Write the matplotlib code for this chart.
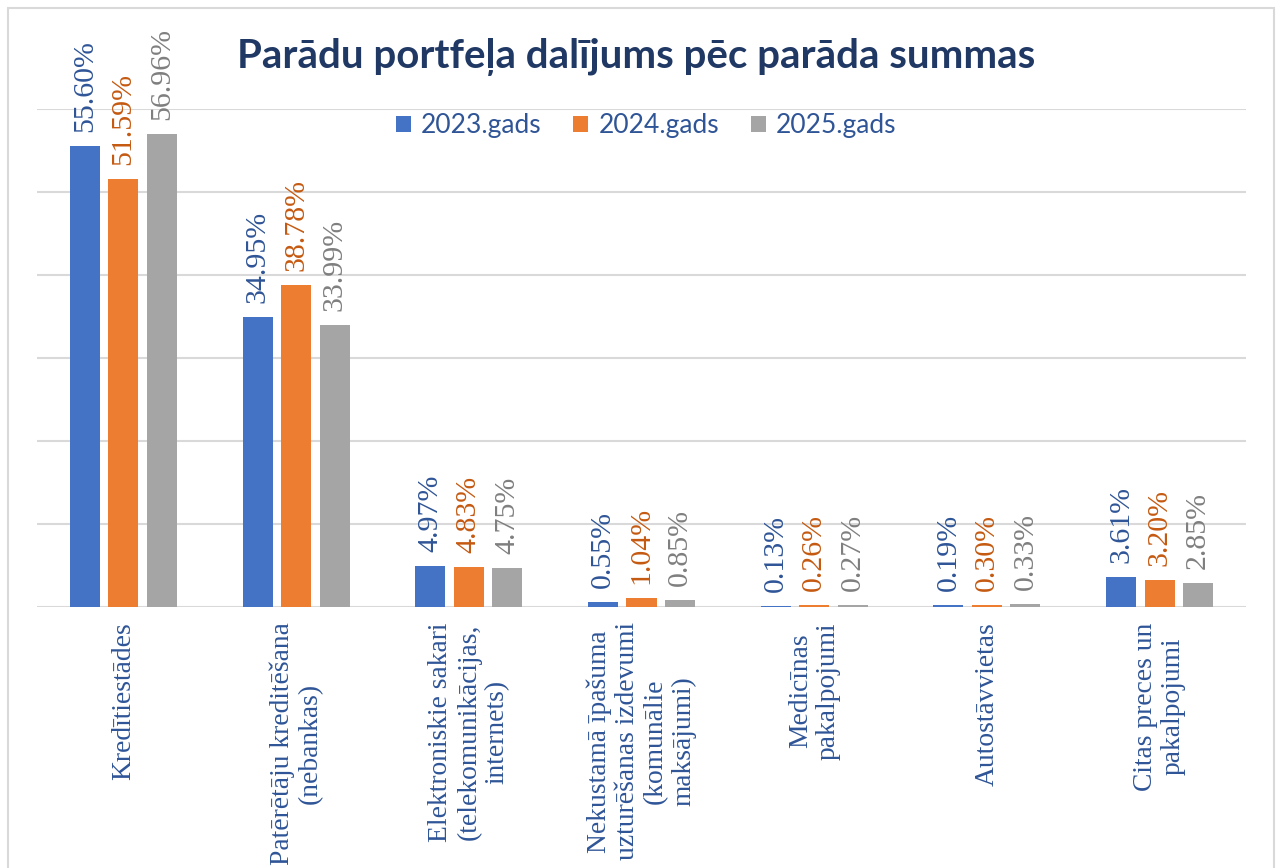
import matplotlib
matplotlib.use('Agg')
import matplotlib.pyplot as plt
import matplotlib.patches as patches
import numpy as np

categories = ['Kredītiestādes',
              'Patērētāju kreditēšana\n(nebankas)',
              'Elektroniskie sakari\n(telekomunikācijas,\ninternets)',
              'Nekustamā īpašuma\nuzturēšanas izdevumi\n(komunālie\nmaksājumi)',
              'Medicīnas\npakalpojumi',
              'Autostāvvietas',
              'Citas preces un\npakalpojumi']
series_names = ['2023.gads', '2024.gads', '2025.gads']
v2023 = [55.60, 34.95, 4.97, 0.55, 0.13, 0.19, 3.61]
v2024 = [51.59, 38.78, 4.83, 1.04, 0.26, 0.30, 3.20]
v2025 = [56.96, 33.99, 4.75, 0.85, 0.27, 0.33, 2.85]

bar_colors = ['#4472C4', '#ED7D31', '#A5A5A5']
label_colors = ['#2F5597', '#C55A11', '#7F7F7F']
text_blue = '#2F5597'
serif = 'Liberation Serif'
sans = 'Lato'

fig = plt.figure(figsize=(12.8, 8.68), dpi=100)
ax = fig.add_axes([37/1280, 1-607/868, (1246-37)/1280, (607-109)/868])

index = np.arange(len(categories))
width = 0.174
step = 0.223
bars = []
for i, (vals, name) in enumerate(zip([v2023, v2024, v2025], series_names)):
    b = ax.bar(index + (i-1)*step, np.array(vals)/100, width=width, color=bar_colors[i], label=name, zorder=3)
    bars.append(b)
    for rect, v in zip(b, vals):
        ax.annotate('%.2f%%' % v, (rect.get_x()+rect.get_width()/2, rect.get_height()),
                    xytext=(0, 14), textcoords='offset pixels', rotation=90,
                    ha='center', va='bottom', color=label_colors[i],
                    fontsize=21.5, family=serif, annotation_clip=False)

ax.set_xlim(-0.5, len(categories)-0.5)
ax.set_ylim(0, 0.6)
ax.set_yticks(np.arange(0, 0.61, 0.1))
ax.set_yticklabels([])
ax.tick_params(axis='y', length=0)
ax.tick_params(axis='x', length=0, pad=11)
ax.set_xticks(index)
ax.set_xticklabels(categories, rotation=90, ha='center', va='top', family=serif,
                   fontsize=19.8, color=text_blue, linespacing=1.15, multialignment='center')
ax.grid(axis='y', color='#D9D9D9', linewidth=1.5, zorder=0)
for s in ax.spines.values():
    s.set_visible(False)

fig.text(636/1280, 1-57/868, 'Parādu portfeļa dalījums pēc parāda summas',
         ha='center', va='center', fontsize=29, fontweight='bold', color='#203864', family=sans)

fig.legend(handles=bars, labels=series_names, loc='center', bbox_to_anchor=(646/1280, 1-126/868),
           ncol=3, frameon=False, prop={'family': sans, 'size': 19}, labelcolor=text_blue,
           handlelength=0.57, handleheight=0.57, handletextpad=0.38, columnspacing=1.2,
           borderpad=0, borderaxespad=0)

fig.patches.append(patches.Rectangle((8/1280, -0.01), (1274-8)/1280, (868-8)/868 + 0.01,
                                     transform=fig.transFigure, fill=False,
                                     edgecolor='#D9D9D9', linewidth=1.5))

fig.savefig('out.png', dpi=100)
